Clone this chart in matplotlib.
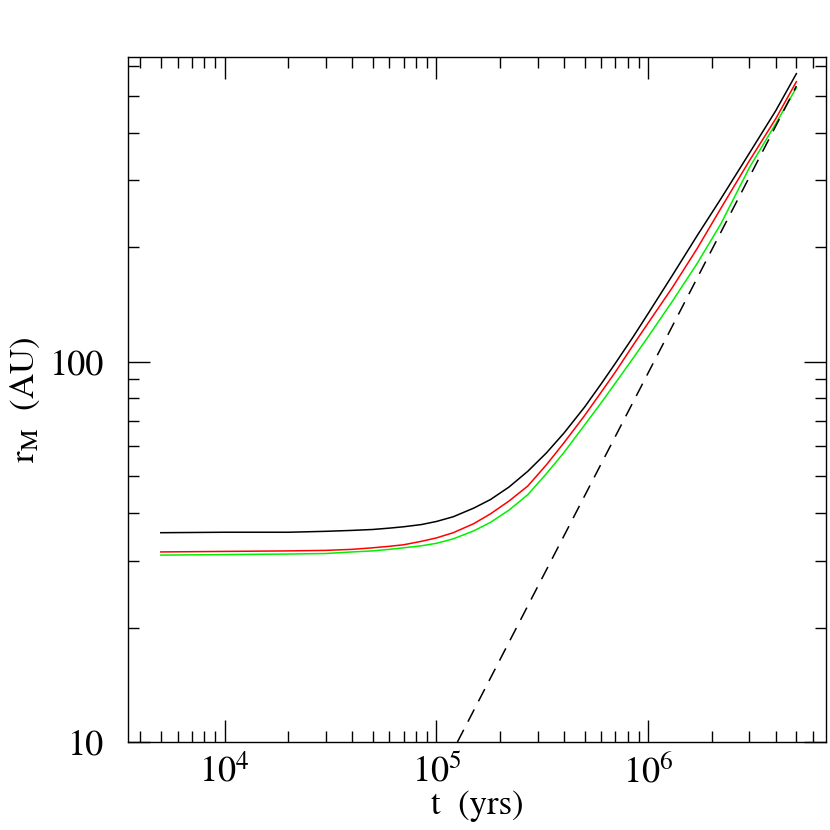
import numpy as np
import matplotlib
matplotlib.use('Agg')
import matplotlib.pyplot as plt
from matplotlib.ticker import FixedLocator, LogLocator, NullFormatter, FixedFormatter

plt.rcParams['font.family'] = ['STIXGeneral', 'DejaVu Serif']
plt.rcParams['mathtext.fontset'] = 'stix'

# time grid (yrs) and radius r_M (AU)
t_yr = [5e3, 1e4, 2e4, 3e4, 4e4, 5e4, 6e4, 7e4, 8.5e4, 1e5, 1.2e5, 1.5e5, 1.8e5,
        2.2e5, 2.7e5, 3.3e5, 4e5, 5e5, 6e5, 7e5, 8.5e5, 1e6, 1.3e6, 1.7e6,
        2.2e6, 3e6, 4e6, 5e6]
r_black = [35.5, 35.6, 35.6, 35.8, 36.0, 36.2, 36.5, 36.8, 37.3, 38.0, 39.1, 41.2, 43.4,
           46.8, 51.5, 57.5, 64.9, 75.9, 87.5, 99.1, 116.4, 134.0, 168.7, 214.3,
           267.9, 353.2, 457.1, 571.5]
r_red = [31.6, 31.7, 31.8, 31.9, 32.1, 32.4, 32.7, 33.0, 33.7, 34.4, 35.5, 37.5, 39.8,
         43.0, 47.1, 53.5, 61.2, 72.1, 83.2, 94.0, 110.7, 126.5, 156.7, 198.2,
         252.9, 337.3, 435.5, 544.5]
r_green = [31.0, 31.1, 31.2, 31.3, 31.6, 31.8, 32.1, 32.4, 32.8, 33.3, 34.2, 35.9, 37.8,
           40.7, 44.7, 50.7, 57.7, 68.1, 78.0, 87.9, 102.3, 116.4, 144.2, 181.1,
           230.1, 323.6, 422.7, 524.8]

# dashed asymptote
t_dash = [1.256e5, 5e6]
r_dash = [10, 530]

fig = plt.figure(figsize=(8.3, 8.3), dpi=100)
ax = fig.add_axes([0.1542, 0.106, 0.841, 0.8253])

ax.plot(t_yr, r_black, color='black', lw=1.1)
ax.plot(t_yr, r_red, color='#ff0000', lw=1.1)
ax.plot(t_yr, r_green, color='#00f000', lw=1.1)
ax.plot(t_dash, r_dash, color='black', lw=1.1, dashes=(9, 6))

ax.set_xscale('log')
ax.set_yscale('log')
ax.set_xlim(3.5e3, 6.9e6)
ax.set_ylim(10, 632)

ax.xaxis.set_major_locator(FixedLocator([1e4, 1e5, 1e6]))
ax.xaxis.set_major_formatter(FixedFormatter([r'$10^4$', r'$10^5$', r'$10^6$']))
ax.xaxis.set_minor_locator(LogLocator(base=10, subs=np.arange(2, 10)))
ax.xaxis.set_minor_formatter(NullFormatter())
ax.yaxis.set_major_locator(FixedLocator([10, 100]))
ax.yaxis.set_major_formatter(FixedFormatter(['10', '100']))
ax.yaxis.set_minor_locator(LogLocator(base=10, subs=np.arange(2, 10)))
ax.yaxis.set_minor_formatter(NullFormatter())

ax.tick_params(which='both', direction='in', top=True, right=True, width=1.0)
ax.tick_params(which='major', length=16, labelsize=26)
ax.tick_params(which='minor', length=8)
ax.tick_params(axis='x', which='major', pad=9)
ax.tick_params(axis='y', which='major', pad=17)
for s in ax.spines.values():
    s.set_linewidth(1.0)

ax.set_xlabel('t  (yrs)', fontsize=25, labelpad=0)
ax.set_ylabel(r'r$_{\rm M}$  (AU)', fontsize=25, labelpad=6)

plt.savefig('out.png', dpi=100)
